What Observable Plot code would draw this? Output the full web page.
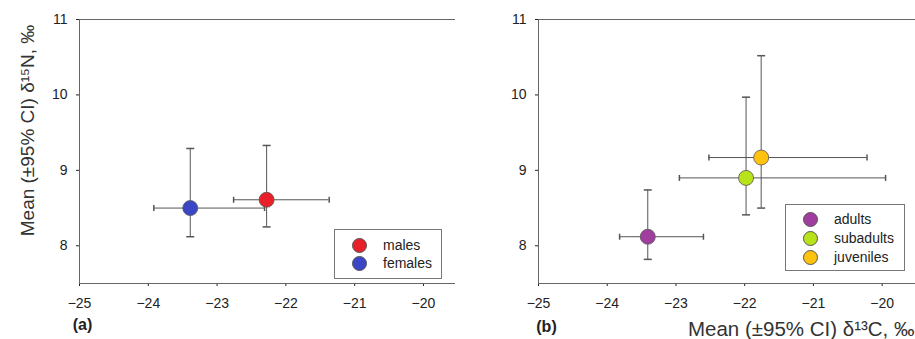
<!DOCTYPE html>
<html>
<head>
<meta charset="utf-8">
<script src="https://cdn.jsdelivr.net/npm/d3@7"></script>
<script src="https://cdn.jsdelivr.net/npm/@observablehq/plot@0.6"></script>
<style>
  html, body { margin: 0; padding: 0; background: #fff; }
  #wrap { position: relative; width: 915px; height: 339px; overflow: hidden; font-family: "Liberation Sans", Arial, sans-serif; }
  .panel { position: absolute; top: 0; }
  .legend { position: absolute; border: 1px solid #777; background: #fff; box-sizing: border-box; font-size: 14px; color: #222; }
  .legend .row { position: absolute; height: 18px; line-height: 18px; white-space: nowrap; }
  .legend .sw { position: absolute; width: 15px; height: 15px; border-radius: 50%; border: 1px solid #555; box-sizing: border-box; }
</style>
</head>
<body>
<div id="wrap"></div>
<script>
// ---- Data ----
const groupsA = ["males", "females"];
const colorsA = ["#e8202a", "#3b46c6"];
const xA    = [-22.28, -23.39];
const yA    = [8.61, 8.50];
const xLoA  = [-22.76, -23.92];
const xHiA  = [-21.37, -22.31];
const yLoA  = [8.25, 8.12];
const yHiA  = [9.33, 9.29];

const groupsB = ["adults", "subadults", "juveniles"];
const colorsB = ["#a03ea0", "#b8e21a", "#ffc20e"];
const xB    = [-23.41, -21.98, -21.76];
const yB    = [8.12, 8.90, 9.17];
const xLoB  = [-23.82, -22.95, -22.52];
const xHiB  = [-22.60, -19.95, -20.22];
const yLoB  = [7.82, 8.41, 8.50];
const yHiB  = [8.74, 9.97, 10.52];

const xTicks = [-25, -24, -23, -22, -21, -20];
const yTicks = [8, 9, 10, 11];
const yLabel = "Mean (±95% CI) δ¹⁵N, ‰";
const xLabel = "Mean (±95% CI) δ¹³C, ‰";
const panelLabels = ["(a)", "(b)"];

// ---- helpers ----
const rows = (g, x, y, xl, xh, yl, yh) => g.map((name, i) => ({name, x: x[i], y: y[i], xLo: xl[i], xHi: xh[i], yLo: yl[i], yHi: yh[i]}));
const dataA = rows(groupsA, xA, yA, xLoA, xHiA, yLoA, yHiA);
const dataB = rows(groupsB, xB, yB, xLoB, xHiB, yLoB, yHiB);

const hCap = {draw(ctx, size) { const r = Math.sqrt(size / Math.PI); ctx.moveTo(-r, 0); ctx.lineTo(r, 0); }};
const vCap = {draw(ctx, size) { const r = Math.sqrt(size / Math.PI); ctx.moveTo(0, -r); ctx.lineTo(0, r); }};
const fmt = d3.format("d");
const bar = "#555";

function panel({width, marginLeft, xMax, data, groups, colors, extra}) {
  return Plot.plot({
    width, height: 339,
    marginLeft, marginRight: 1, marginTop: 19, marginBottom: 56,
    style: {fontFamily: '"Liberation Sans", Arial, sans-serif', fontSize: "14px", color: "#222", background: "#fff", overflow: "visible"},
    x: {domain: [-25, xMax], ticks: xTicks, tickFormat: fmt, tickSize: 3, tickPadding: 12, label: null},
    y: {domain: [7.5, 11], ticks: yTicks, tickFormat: fmt, tickSize: 3, tickPadding: 9, label: null},
    color: {domain: groups, range: colors},
    marks: [
      Plot.frame({stroke: "#666"}),
      Plot.ruleY(data, {y: "y", x1: "xLo", x2: "xHi", stroke: bar, strokeWidth: 1}),
      Plot.ruleX(data, {x: "x", y1: "yLo", y2: "yHi", stroke: bar, strokeWidth: 1}),
      Plot.dot(data, {x: "xLo", y: "y", symbol: vCap, r: 3, stroke: bar, fill: "none"}),
      Plot.dot(data, {x: "xHi", y: "y", symbol: vCap, r: 3, stroke: bar, fill: "none"}),
      Plot.dot(data, {x: "x", y: "yLo", symbol: hCap, r: 4, stroke: bar, fill: "none"}),
      Plot.dot(data, {x: "x", y: "yHi", symbol: hCap, r: 4, stroke: bar, fill: "none"}),
      Plot.dot(data, {x: "x", y: "y", r: 7.5, fill: "name", stroke: "#555", strokeWidth: 0.8}),
      ...extra
    ]
  });
}

const wrap = document.getElementById("wrap");

const plotA = panel({
  width: 457, marginLeft: 79, xMax: -19.52, data: dataA, groups: groupsA, colors: colorsA,
  extra: [
    Plot.text([panelLabels[0]], {text: d => d, frameAnchor: "bottom-left", dx: 3, dy: 41, fontSize: 16, fontWeight: "bold", textAnchor: "middle", lineAnchor: "middle", fill: "#222"}),
    Plot.text([yLabel], {text: d => d, frameAnchor: "left", rotate: -90, dx: -52, dy: -21, fontSize: 19, textAnchor: "middle", lineAnchor: "middle", fill: "#333"})
  ]
});
const plotB = panel({
  width: 462, marginLeft: 83, xMax: -19.5, data: dataB, groups: groupsB, colors: colorsB,
  extra: [
    Plot.text([panelLabels[1]], {text: d => d, frameAnchor: "bottom-left", dx: 8, dy: 43, fontSize: 16, fontWeight: "bold", textAnchor: "middle", lineAnchor: "middle", fill: "#222"}),
    Plot.text([xLabel], {text: d => d, frameAnchor: "bottom-right", textAnchor: "end", lineAnchor: "middle", dx: -2, dy: 46, fontSize: 20.5, fill: "#333"})
  ]
});

function place(el, left) { el.classList.add("panel"); el.style.left = left + "px"; wrap.appendChild(el); }
place(plotA, 0);
place(plotB, 455);

function legend(groups, colors, box, swX, txtX, y0, step) {
  const d = document.createElement("div");
  d.className = "legend";
  Object.assign(d.style, {left: box[0] + "px", top: box[1] + "px", width: box[2] + "px", height: box[3] + "px"});
  groups.forEach((g, i) => {
    const cy = y0 + i * step;
    const sw = document.createElement("div");
    sw.className = "sw";
    Object.assign(sw.style, {left: (swX - 7.5) + "px", top: (cy - 7.5) + "px", background: colors[i]});
    const t = document.createElement("div");
    t.className = "row";
    t.textContent = g;
    Object.assign(t.style, {left: txtX + "px", top: (cy - 9) + "px"});
    d.appendChild(sw); d.appendChild(t);
  });
  wrap.appendChild(d);
}
// positions relative to the legend box
legend(groupsA, colorsA, [334, 229, 108, 50], 24, 48, 15, 18);
legend(groupsB, colorsB, [785, 204, 120, 67], 24, 48, 14, 19);
</script>
</body>
</html>
